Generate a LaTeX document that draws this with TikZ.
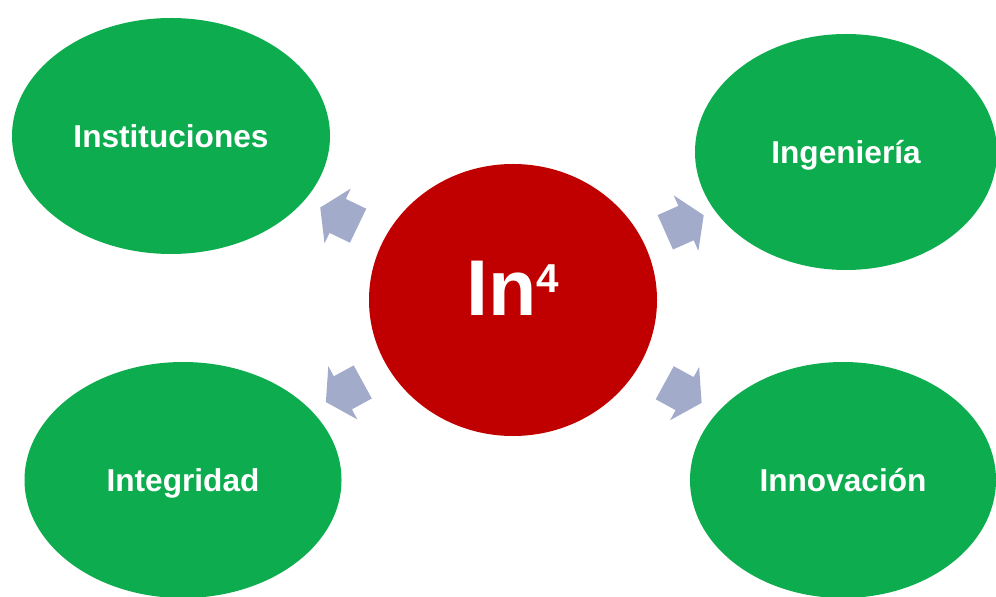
\documentclass[tikz,border=0pt]{standalone}
\usepackage{fontspec}
\setmainfont{Liberation Sans}
\usepackage{tikz}
\usetikzlibrary{shapes.geometric,shapes.arrows}
\definecolor{pillargreen}{HTML}{0DAD4F}
\definecolor{corered}{HTML}{C00000}
\definecolor{linkgrey}{HTML}{A3ABCA}

\begin{document}
\begin{tikzpicture}[
  pillar/.style={ellipse, fill=pillargreen, inner sep=0pt, minimum width=6.3cm, minimum height=4.72cm, text=white, text depth=0pt, font=\fontsize{18}{20}\selectfont\bfseries},
  link/.style={single arrow, fill=linkgrey, inner xsep=0pt, inner ysep=0.37cm, minimum height=0.84cm, single arrow head extend=0.23cm, single arrow tip angle=115, sloped, allow upside down, pos=0.5}
]
\useasboundingbox (0,0) rectangle (19.92,11.92);
% centre and the four pillars
\node[ellipse, fill=corered, inner sep=0pt, minimum width=5.76cm, minimum height=5.44cm, text=white, font=\fontsize{45}{50}\selectfont\bfseries] (core) at (10.26,5.92) {In\raisebox{13pt}{\fontsize{23}{24}\selectfont 4}\vrule width 0pt height 0pt depth 0.46cm};
\node[pillar, minimum width=6.36cm] (inst) at (3.42,9.20) {Instituciones};
\node[pillar, minimum width=6.04cm] (inge) at (16.92,8.88) {Ingeniería};
\node[pillar, minimum width=6.34cm] (integ) at (3.66,2.32) {Integridad};
\node[pillar, minimum width=6.12cm] (innov) at (16.86,2.32) {Innovación};
% block arrows in the gaps
\path (core) -- (inst) node[link] (toinst) {};
\path (core) -- (inge) node[link] (toinge) {};
\path (core) -- (integ) node[link] (tointeg) {};
\path (core) -- (innov) node[link] (toinnov) {};
\end{tikzpicture}
\end{document}
